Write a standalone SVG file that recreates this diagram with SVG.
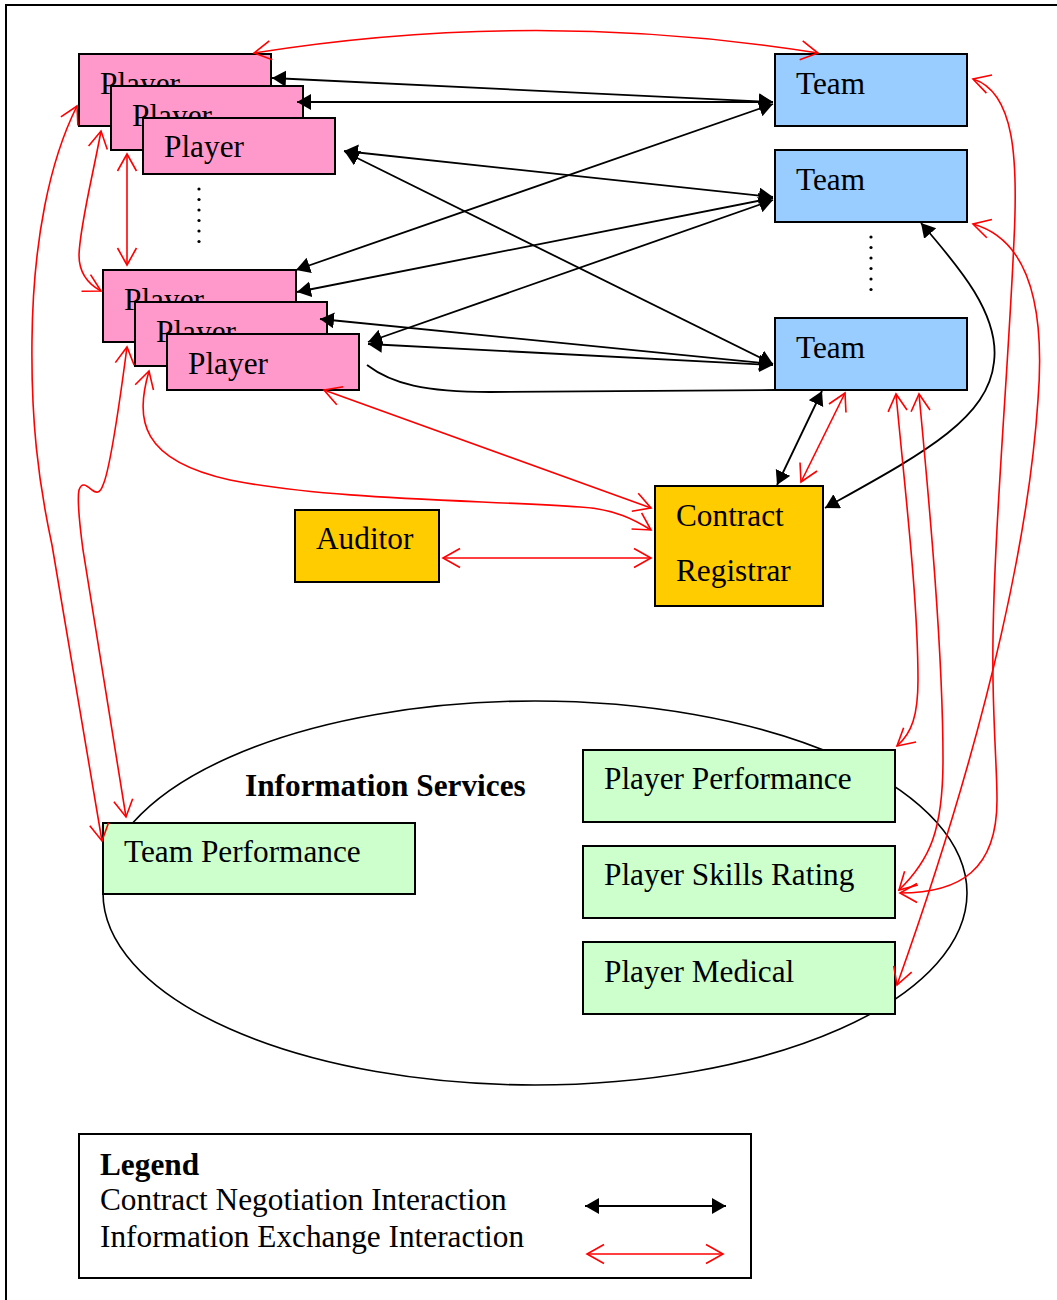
<svg xmlns="http://www.w3.org/2000/svg" width="1057" height="1300" viewBox="0 0 1057 1300">
  <style>
    text { font-family: "Liberation Serif", "Times New Roman", serif; font-size: 31.3px; fill: #000; }
    .bold { font-weight: bold; }
    .box { stroke: #000; stroke-width: 2; }
    .player { fill: #FF99CC; }
    .team { fill: #99CCFF; }
    .office { fill: #FFCC00; }
    .service { fill: #CCFFCC; }
    .cn { fill: none; stroke: #000; stroke-width: 1.8; marker-start: url(#ah); marker-end: url(#ah); }
    .ie { fill: none; stroke: #FF0000; stroke-width: 1.6; marker-start: url(#rh); marker-end: url(#rh); }
    .plain { fill: none; stroke: #000; stroke-width: 1.8; }
    .dot { fill: #000; }
  </style>
  <defs>
    <marker id="ah" markerWidth="16" markerHeight="18" refX="14" refY="8" orient="auto-start-reverse" markerUnits="userSpaceOnUse">
      <path d="M0,0 L14,8 L0,16 z" fill="#000"/>
    </marker>
    <marker id="rh" markerWidth="22" markerHeight="24" refX="18" refY="10" orient="auto-start-reverse" markerUnits="userSpaceOnUse" overflow="visible">
      <path d="M1,0.5 L18,10 L1,19.5" fill="none" stroke="#FF0000" stroke-width="1.6"/>
    </marker>
  </defs>

  <rect x="0" y="0" width="1057" height="1300" fill="#fff"/>
  <!-- page frame -->
  <rect x="6" y="5" width="1100" height="1400" fill="none" stroke="#000" stroke-width="2"/>

  <!-- information services boundary -->
  <g id="information-services">
    <ellipse cx="535" cy="893" rx="432" ry="192" fill="none" stroke="#000" stroke-width="1.6"/>
    <text class="bold" x="245" y="796">Information Services</text>
  </g>

  <!-- players, first group -->
  <g id="player-1"><rect class="box player" x="79" y="54" width="192" height="72"/><text x="100" y="94">Player</text></g>
  <g id="player-2"><rect class="box player" x="111" y="86" width="192" height="64"/><text x="132" y="126">Player</text></g>
  <g id="player-3"><rect class="box player" x="143" y="118" width="192" height="56"/><text x="164" y="157">Player</text></g>
  <g id="player-ellipsis-1">
    <circle class="dot" cx="199" cy="189" r="1.6"/><circle class="dot" cx="199" cy="199.5" r="1.6"/>
    <circle class="dot" cx="199" cy="210" r="1.6"/><circle class="dot" cx="199" cy="220.5" r="1.6"/>
    <circle class="dot" cx="199" cy="231" r="1.6"/><circle class="dot" cx="199" cy="241.5" r="1.6"/>
  </g>

  <!-- players, second group -->
  <g id="player-4"><rect class="box player" x="103" y="270" width="193" height="72"/><text x="124" y="310">Player</text></g>
  <g id="player-5"><rect class="box player" x="135" y="302" width="192" height="64"/><text x="156" y="342">Player</text></g>
  <g id="player-6"><rect class="box player" x="167" y="334" width="192" height="56"/><text x="188" y="374">Player</text></g>

  <!-- teams -->
  <g id="team-1"><rect class="box team" x="775" y="54" width="192" height="72"/><text x="796" y="94">Team</text></g>
  <g id="team-2"><rect class="box team" x="775" y="150" width="192" height="72"/><text x="796" y="190">Team</text></g>
  <g id="team-ellipsis">
    <circle class="dot" cx="871" cy="237" r="1.6"/><circle class="dot" cx="871" cy="247.5" r="1.6"/>
    <circle class="dot" cx="871" cy="258" r="1.6"/><circle class="dot" cx="871" cy="268.5" r="1.6"/>
    <circle class="dot" cx="871" cy="279" r="1.6"/><circle class="dot" cx="871" cy="289.5" r="1.6"/>
  </g>
  <g id="team-3"><rect class="box team" x="775" y="318" width="192" height="72"/><text x="796" y="358">Team</text></g>

  <!-- offices -->
  <g id="auditor"><rect class="box office" x="295" y="510" width="144" height="72"/><text x="316" y="549">Auditor</text></g>
  <g id="contract-registrar">
    <rect class="box office" x="655" y="486" width="168" height="120"/>
    <text x="676" y="526">Contract</text>
    <text x="676" y="581">Registrar</text>
  </g>

  <!-- information services -->
  <g id="team-performance"><rect class="box service" x="103" y="823" width="312" height="71"/><text x="124" y="862">Team Performance</text></g>
  <g id="player-performance"><rect class="box service" x="583" y="750" width="312" height="72"/><text x="604" y="789">Player Performance</text></g>
  <g id="player-skills-rating"><rect class="box service" x="583" y="846" width="312" height="72"/><text x="604" y="885">Player Skills Rating</text></g>
  <g id="player-medical"><rect class="box service" x="583" y="942" width="312" height="72"/><text x="604" y="982">Player Medical</text></g>

  <!-- interactions -->
  <g id="connectors">
    <!-- contract negotiation -->
    <path class="cn" d="M272,78 L773,102"/>
    <path class="cn" d="M297,102 L773,102"/>
    <path class="cn" d="M344,151 L773,197"/>
    <path class="cn" d="M345,152 L773,364"/>
    <path class="cn" d="M296,270 L773,104"/>
    <path class="cn" d="M297,292 L773,198"/>
    <path class="cn" d="M320,319 L773,364"/>
    <path class="cn" d="M368,342 L773,200"/>
    <path class="cn" d="M368,344 L773,365"/>
    <path class="cn" d="M822,391 L777,485"/>
    <path class="cn" d="M921,223 C960,268 1000,315 994,362 C988,420 920,455 825,508"/>
    <path class="plain" d="M367,365 C392,384 425,392 490,392 L775,390"/>

    <!-- information exchange -->
    <path class="ie" d="M254,53 Q536,8 818,53"/>
    <path class="ie" d="M973,79 C1015,92 1018,160 1014,240 C1008,380 991,560 993,680 C994,740 997,770 997,800 C997,870 960,893 900,893"/>
    <path class="ie" d="M973,224 C1030,240 1045,310 1038,400 C1030,520 995,710 897,985"/>
    <path class="ie" d="M896,394 C905,490 918,600 918,680 C918,715 912,733 897,746"/>
    <path class="ie" d="M919,394 C926,470 943,640 943,760 C943,830 930,860 899,890"/>
    <path class="ie" d="M845,393 L801,482"/>
    <path class="ie" d="M324,390 L651,508"/>
    <path class="ie" d="M149,371 C135,420 140,460 230,480 C330,500 480,500 580,507 C615,509 635,520 651,530"/>
    <path class="ie" d="M443,558 L651,558"/>
    <path class="ie" d="M77,106 C50,160 33,240 32,340 C31,420 38,480 52,545 L102,841"/>
    <path class="ie" d="M101,131 C93,175 80,225 79,255 C79,272 88,284 101,291"/>
    <path class="ie" d="M127,154 L127,265"/>
    <path class="ie" d="M127,347 C120,400 110,470 103,485 C100,494 96,493 92,490 C87,486 82,481 79,490 C77,500 79,520 83,550 L126,817"/>
  </g>

  <!-- legend -->
  <g id="legend">
    <rect x="79" y="1134" width="672" height="144" fill="none" stroke="#000" stroke-width="2"/>
    <text class="bold" x="100" y="1175">Legend</text>
    <text x="100" y="1210">Contract Negotiation Interaction</text>
    <text x="100" y="1247">Information Exchange Interaction</text>
    <path class="cn" d="M585,1206 L726,1206"/>
    <path class="ie" d="M587,1254 L723,1254"/>
  </g>
</svg>
